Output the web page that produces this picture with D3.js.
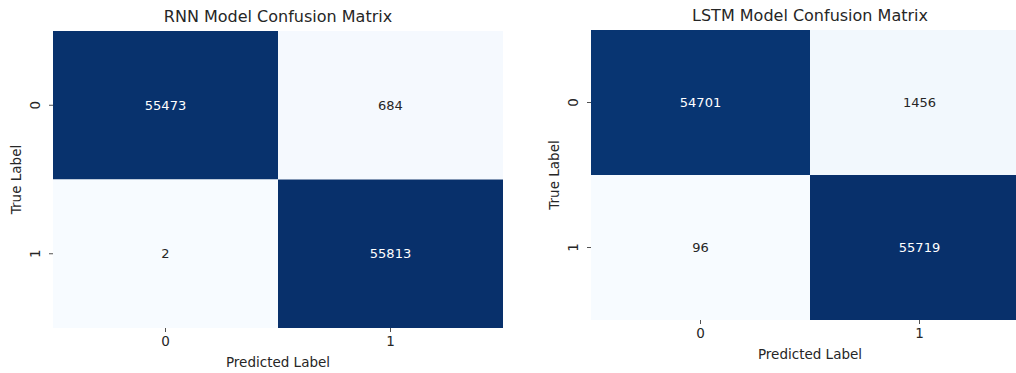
<!DOCTYPE html>
<html>
<head>
<meta charset="utf-8">
<script src="https://cdn.jsdelivr.net/npm/d3@7"></script>
<style>
  body { margin: 0; background: #fff; }
  svg { font-family: "DejaVu Sans", sans-serif; }
</style>
</head>
<body>
<div id="chart"></div>
<script>
// data
const labels = ["0", "1"];
const rnnValues = [[55473, 684], [2, 55813]];
const lstmValues = [[54701, 1456], [96, 55719]];
const titles = ["RNN Model Confusion Matrix", "LSTM Model Confusion Matrix"];

const W = 1016, H = 373;
const svg = d3.select("#chart").append("svg")
  .attr("width", W).attr("height", H);

const panels = [
  {title: titles[0], values: rnnValues, x0: 53, x1: 503, y0: 31, y1: 328},
  {title: titles[1], values: lstmValues, x0: 591, x1: 1029, y0: 30, y1: 320}
];

panels.forEach(p => {
  var g = svg.append("g");
  var x = d3.scaleBand().domain(labels).range([p.x0, p.x1]);
  var y = d3.scaleBand().domain(labels).range([p.y0, p.y1]);
  var flat = p.values.flat();
  var color = d3.scaleSequential(d3.interpolateBlues)
    .domain([d3.min(flat), d3.max(flat)]);

  var cells = [];
  p.values.forEach((row, i) => row.forEach((v, j) => cells.push({r: labels[i], c: labels[j], v: v})));

  g.selectAll("rect").data(cells).enter().append("rect")
    .attr("x", d => x(d.c))
    .attr("y", d => y(d.r))
    .attr("width", x.bandwidth())
    .attr("height", y.bandwidth())
    .attr("fill", d => color(d.v));

  g.selectAll("text.val").data(cells).enter().append("text")
    .attr("class", "val")
    .attr("x", d => x(d.c) + x.bandwidth() / 2)
    .attr("y", d => y(d.r) + y.bandwidth() / 2)
    .attr("text-anchor", "middle")
    .attr("dominant-baseline", "central")
    .attr("font-size", 13)
    .attr("fill", d => (color.domain()[1] - d.v) / (color.domain()[1] - color.domain()[0]) < 0.5 ? "#ffffff" : "#262626")
    .text(d => d.v);

  // x axis
  var xa = g.append("g")
    .attr("transform", "translate(0," + p.y1 + ")")
    .call(d3.axisBottom(x).tickSize(4).tickPadding(4));
  xa.select(".domain").remove();
  xa.selectAll("text").attr("font-size", 13.5).attr("fill", "#262626")
    .attr("font-family", "DejaVu Sans");
  xa.selectAll("line").attr("stroke", "#262626").attr("stroke-width", 0.8);

  // y axis
  var ya = g.append("g")
    .attr("transform", "translate(" + p.x0 + ",0)")
    .call(d3.axisLeft(y).tickSize(4).tickPadding(4));
  ya.select(".domain").remove();
  ya.selectAll("text")
    .attr("font-size", 13.5).attr("fill", "#262626")
    .attr("font-family", "DejaVu Sans")
    .attr("x", null).attr("dy", null)
    .attr("text-anchor", "middle")
    .attr("transform", "translate(-13,0) rotate(-90)");
  ya.selectAll("line").attr("stroke", "#262626").attr("stroke-width", 0.8);

  // title and axis labels
  g.append("text")
    .attr("x", (p.x0 + p.x1) / 2)
    .attr("y", p.y0 - 9)
    .attr("text-anchor", "middle")
    .attr("font-size", 16)
    .attr("fill", "#262626")
    .text(p.title);

  g.append("text")
    .attr("x", (p.x0 + p.x1) / 2)
    .attr("y", p.y1 + 39)
    .attr("text-anchor", "middle")
    .attr("font-size", 13.5)
    .attr("fill", "#262626")
    .text("Predicted Label");

  g.append("text")
    .attr("transform", "translate(" + (p.x0 - 32) + "," + ((p.y0 + p.y1) / 2) + ") rotate(-90)")
    .attr("text-anchor", "middle")
    .attr("font-size", 13.5)
    .attr("fill", "#262626")
    .text("True Label");
});
</script>
</body>
</html>
